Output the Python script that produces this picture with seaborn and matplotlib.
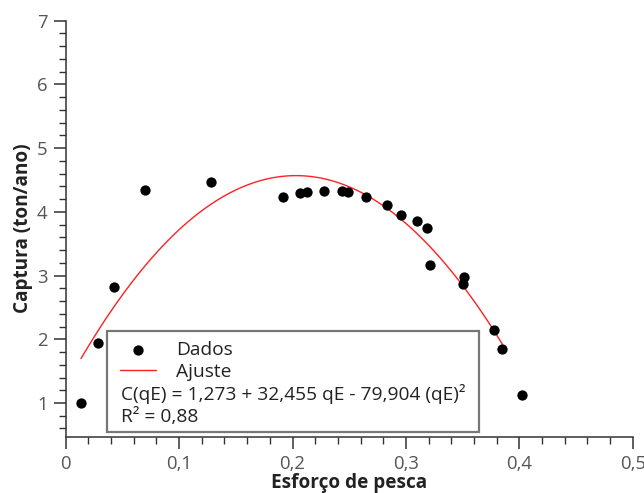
import numpy as np
import pandas as pd
import matplotlib
matplotlib.use("Agg")
import matplotlib.pyplot as plt
from matplotlib.lines import Line2D
from matplotlib.offsetbox import DrawingArea
from matplotlib.ticker import FixedLocator, MultipleLocator
import seaborn as sns

# ---- data ----
effort = [0.0135, 0.0285, 0.0423, 0.0702, 0.128, 0.192, 0.207, 0.2125, 0.228,
          0.244, 0.249, 0.265, 0.283, 0.296, 0.310, 0.319, 0.3215, 0.350,
          0.351, 0.378, 0.385, 0.402]
catch = [1.00, 1.94, 2.82, 4.35, 4.47, 4.23, 4.29, 4.31, 4.33,
         4.33, 4.31, 4.24, 4.11, 3.95, 3.86, 3.74, 3.17, 2.86,
         2.97, 2.15, 1.84, 1.12]

# fitted model shown in the legend: C = a + b*qE + c*qE^2
fit_coef = [1.273, 32.455, -79.904]
fit_range = [0.0135, 0.385]
equation_label = "C(qE) = 1,273 + 32,455 qE - 79,904 (qE)²"
r2_label = "R² = 0,88"
series_labels = ["Dados", "Ajuste"]

x_ticks = [0.0, 0.1, 0.2, 0.3, 0.4, 0.5]
x_tick_labels = ["0", "0,1", "0,2", "0,3", "0,4", "0,5"]
y_ticks = [1, 2, 3, 4, 5, 6, 7]
y_tick_labels = ["1", "2", "3", "4", "5", "6", "7"]
x_label = "Esforço de pesca"
y_label = "Captura (ton/ano)"

# ---- build tables ----
df = pd.DataFrame({"effort": effort, "catch": catch})
fx = np.linspace(fit_range[0], fit_range[1], 120)
fy = fit_coef[0] + fit_coef[1] * fx + fit_coef[2] * fx ** 2
df_fit = pd.DataFrame({"effort": fx, "catch": fy})

sns.set_theme(style="ticks")
plt.rcParams["font.family"] = ["Open Sans", "DejaVu Sans"]

W, H = 644, 493
fig = plt.figure(figsize=(W / 100, H / 100), dpi=100)
x0, x1, ytop, ybot = 65.7, 632.7, 20.7, 436.5
ax = fig.add_axes([x0 / W, 1 - ybot / H, (x1 - x0) / W, (ybot - ytop) / H])

sns.lineplot(data=df_fit, x="effort", y="catch", color="#ff2020", lw=1.0,
             ax=ax, label=series_labels[1], zorder=2)
sns.scatterplot(data=df, x="effort", y="catch", color="black", s=55,
                linewidth=0, ax=ax, label=series_labels[0], zorder=3)

ax.set_xlim(0, 0.5)
ax.set_ylim(0.474, 7)
ax.xaxis.set_major_locator(FixedLocator(x_ticks))
ax.set_xticklabels(x_tick_labels)
ax.xaxis.set_minor_locator(MultipleLocator(0.02))
ax.yaxis.set_major_locator(FixedLocator(y_ticks))
ax.set_yticklabels(y_tick_labels)
ax.yaxis.set_minor_locator(MultipleLocator(0.2))

for side in ["top", "right"]:
    ax.spines[side].set_visible(False)
for side in ["left", "bottom"]:
    ax.spines[side].set_color("#333333")
    ax.spines[side].set_linewidth(1.1)

ax.tick_params(which="major", direction="out", length=8.5, width=1.1,
               color="#333333", labelcolor="#555555", labelsize=13.3, pad=4.5)
ax.tick_params(which="minor", direction="out", length=4.8, width=1.0,
               color="#333333")

ax.set_xlabel(x_label, fontsize=13.7, fontweight="bold", color="#222222",
              labelpad=0)
ax.set_ylabel(y_label, fontsize=13.7, fontweight="bold", color="#222222",
              labelpad=3)

# ---- legend ----
handles, labels = ax.get_legend_handles_labels()
hmap = dict(zip(labels, handles))
blank = Line2D([], [], alpha=0)
leg_handles = [hmap[series_labels[0]], hmap[series_labels[1]], blank, blank]
leg_labels = [series_labels[0], series_labels[1], equation_label, r2_label]
leg = ax.legend(leg_handles, leg_labels, loc="lower left",
                bbox_to_anchor=(0.073, 0.011), borderaxespad=0,
                fontsize=13.8, labelspacing=0.2, handlelength=1.9,
                handletextpad=1.0, borderpad=0.3, fancybox=False,
                framealpha=1, edgecolor="#777777", labelcolor="#222222")
leg.get_frame().set_linewidth(1.6)
# extra padding inside the legend box (points)
pad_l = 5.2
try:
    column = leg._legend_handle_box.get_children()[0]
    rows = list(column.get_children())
    for i, row in enumerate(rows):
        da = row.get_children()[0]
        if i < 2:
            da.xdescent += pad_l
            da.width += pad_l
        else:
            da.width = 0.8
            row.sep = 0
    rows[2]._children.append(DrawingArea(5.8, 0))
    column._children.insert(0, DrawingArea(0.1, 0))
except Exception:
    pass

fig.savefig("out.png", dpi=100)
